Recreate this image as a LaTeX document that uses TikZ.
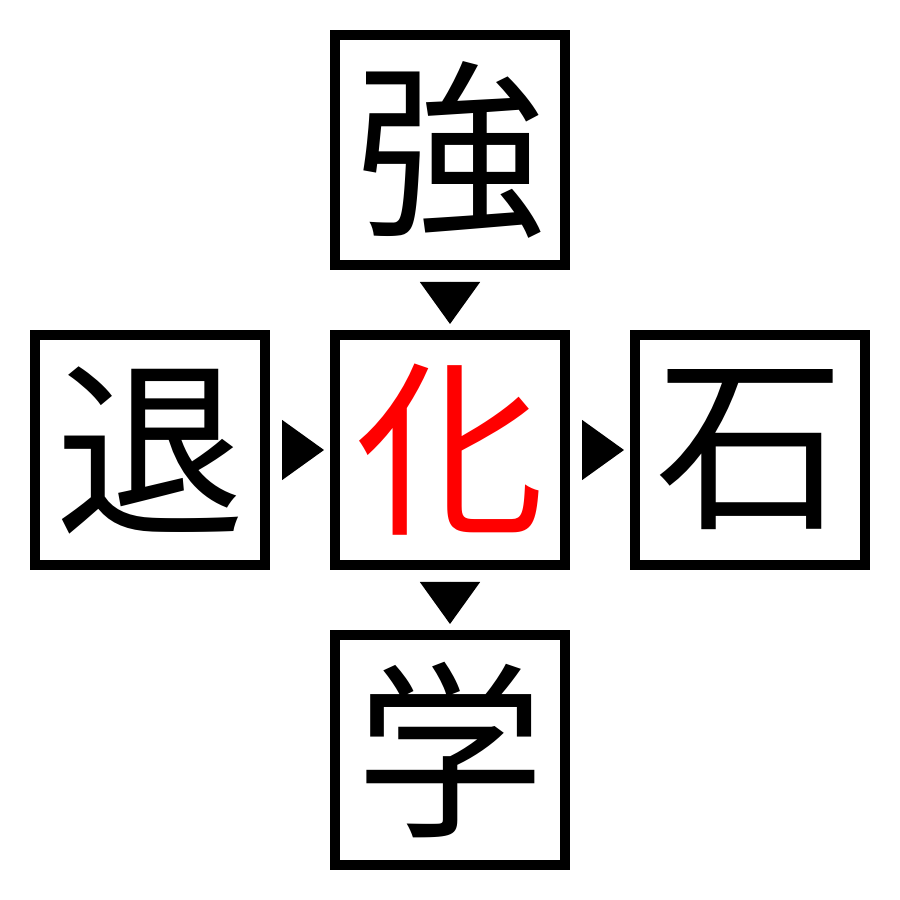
\documentclass[tikz,border=0pt]{standalone}
\usepackage{fontspec}
\newfontfamily\cjk{Noto Sans CJK JP}
\usetikzlibrary{positioning,arrows.meta}
\tikzset{
		kanji/.style={draw, line width=0.1cm, minimum size=2.3cm, inner sep=0pt,
			font=\cjk\fontsize{54}{54}\selectfont},
		pointer/.style={-{Triangle[length=0.42cm,width=0.6cm]}, line width=0.4pt,
			shorten <=0.12cm, shorten >=0.06cm},
		}

\begin{document}
\begin{tikzpicture}[on grid,node distance=3cm]
					\useasboundingbox (0,0) rectangle (9,9);
					%NODES
					\node[kanji,text=red](ka) at (4.5,4.5){化};
					\node[kanji](kyou)[above = of ka]{強};
					\node[kanji](tai)[left = of ka]{退};
					\node[kanji](seki)[right = of ka]{石};
					\node[kanji](gaku)[below = of ka]{学};
					%POINTERS
					\draw[pointer] (kyou.south) -- (ka.north);
					\draw[pointer] (tai.east) -- (ka.west);
					\draw[pointer] (ka.east) -- (seki.west);
					\draw[pointer] (ka.south) -- (gaku.north);
				\end{tikzpicture}
\end{document}
